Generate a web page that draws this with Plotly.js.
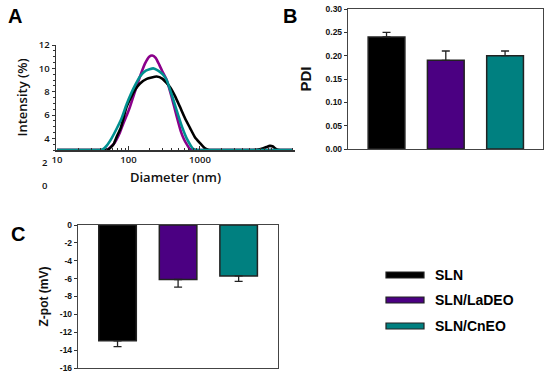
<!DOCTYPE html>
<html>
<head>
<meta charset="utf-8">
<script src="https://cdn.plot.ly/plotly-3.0.1.min.js"></script>
<style>html,body{margin:0;padding:0;background:#fff;}#chart{width:550px;height:379px;}</style>
</head>
<body>
<div id="chart"></div>
<script>
// ---- Data ----
const samples = ["SLN", "SLN/LaDEO", "SLN/CnEO"];

// Panel A: DLS intensity distributions (diameter in nm, intensity %)
const dPurple = [10, 40, 46, 50, 55, 62, 68, 76, 85, 95, 105, 120, 145, 170, 195, 215, 240, 270, 300, 342, 400, 472, 540, 600, 652, 720, 770, 820, 900, 20000];
const iPurple = [3, 3, 3, 3.02, 3.2, 3.5, 3.9, 4.5, 5.3, 6.0, 6.7, 7.8, 9.3, 10.4, 11.0, 11.1, 10.9, 10.3, 9.7, 9.0, 7.6, 5.9, 4.6, 3.9, 3.5, 3.1, 3.02, 3, 3, 3];

const dBlack = [10, 42, 48, 52, 56, 62, 68, 78, 94, 110, 125, 145, 180, 248, 300, 380, 450, 525, 620, 725, 850, 1000, 1150, 1300, 1400, 1550, 5500, 6300, 7500, 8500, 9500, 10500, 11500, 12300, 13200, 14500, 20000];
const iBlack = [3, 3, 3, 3.02, 3.2, 3.5, 4.1, 4.9, 6.7, 7.6, 8.2, 8.7, 9.1, 9.3, 9.1, 8.4, 7.6, 6.7, 5.7, 4.9, 4.1, 3.6, 3.2, 3.03, 3, 3, 3, 3.02, 3.12, 3.25, 3.35, 3.3, 3.1, 3.02, 3, 3, 3];

const dTeal = [10, 36, 40, 43, 50, 58, 68, 80, 94, 110, 125, 145, 175, 222, 260, 300, 342, 400, 472, 560, 652, 740, 800, 860, 920, 1000, 20000];
const iTeal = [3, 3, 3, 3.02, 3.4, 4.0, 4.8, 5.7, 6.9, 7.9, 8.6, 9.3, 9.8, 10.0, 9.8, 9.5, 9.0, 7.8, 6.4, 5.0, 4.0, 3.4, 3.1, 3.02, 3, 3, 3];

const yTicksA = [4, 6, 8, 10, 12];
const xTicksA = [10, 100, 1000];
const offAxisLabelsA = ["2", "0"];

// Panel B: PDI
const pdi = [0.24, 0.19, 0.20];
const pdiErr = [0.01, 0.02, 0.01];

// Panel C: Zeta potential (mV)
const zpot = [-12.95, -6.1, -5.7];
const zpotErr = [0.65, 0.85, 0.6];
const zTickVals = [0, -2, -4, -6, -8, -10, -12, -14, -16];
const zTickText = ["0", "-2", "-4", "-6", "-8", "-10", "-12", "-14", "-16"];

const barColors = ["#000000", "#4B0082", "#008080"];
const lineColors = {black: "#000000", purple: "#8B008B", teal: "#009090"};

// ---- Traces ----
function curve(x, y, c) {
  return {x: x, y: y, type: "scatter", mode: "lines", line: {color: c, width: 2.6, shape: "spline", smoothing: 0.45},
    xaxis: "x", yaxis: "y", showlegend: false, hoverinfo: "skip"};
}
const traces = [
  curve(dPurple, iPurple, lineColors.purple),
  curve(dBlack, iBlack, lineColors.black),
  curve(dTeal, iTeal, lineColors.teal),
  {x: samples, y: pdi, type: "bar", width: 0.62, marker: {color: barColors, line: {color: "#222", width: 1.5}},
   error_y: {type: "data", symmetric: false, array: pdiErr, arrayminus: [0, 0, 0], color: "#222", thickness: 1.3, width: 4},
   xaxis: "x2", yaxis: "y2", showlegend: false},
  {x: samples, y: zpot, type: "bar", width: 0.62, marker: {color: barColors, line: {color: "#222", width: 1.5}},
   error_y: {type: "data", symmetric: false, array: [0, 0, 0], arrayminus: zpotErr, color: "#222", thickness: 1.3, width: 4},
   xaxis: "x3", yaxis: "y3", showlegend: false}
];

const W = 550, H = 379;
const px = v => v / W;
const py = v => 1 - v / H;

const fA = {family: "Open Sans, sans-serif", size: 9.5, color: "#111", weight: 600};
const fB = {family: "Liberation Sans, Arial, sans-serif", size: 8.5, color: "#111", weight: 700};
const letterFont = {family: "Liberation Sans, Arial", size: 20, color: "#000", weight: 700};

const layout = {
  width: W, height: H,
  margin: {l: 0, r: 0, t: 0, b: 0},
  paper_bgcolor: "#fff", plot_bgcolor: "#fff",
  xaxis: {
    domain: [px(56), px(295)], anchor: "y", type: "log", range: [0.986, 4.33],
    tickvals: xTicksA, ticktext: xTicksA.map(String),
    ticks: "inside", ticklen: 4, tickcolor: "#333", showline: true, linecolor: "#333", linewidth: 1.5,
    minor: {ticks: "inside", ticklen: 2.5, tickcolor: "#333", dtick: "D1"},
    showgrid: false, zeroline: false, tickfont: fA,
    title: {text: "Diameter (nm)", font: {family: "Open Sans, sans-serif", size: 13, color: "#111", weight: 600}, standoff: 8}
  },
  yaxis: {
    domain: [py(150), py(45)], anchor: "x", range: [3, 12],
    tickvals: yTicksA, ticks: "outside", ticklen: 3, tickcolor: "#333",
    minor: {ticks: "outside", ticklen: 2, tickcolor: "#333", dtick: 0.5},
    showline: true, linecolor: "#333", linewidth: 1.5, showgrid: false, zeroline: false, tickfont: fA,
    title: {text: "Intensity (%)", font: {family: "Open Sans, sans-serif", size: 13, color: "#111", weight: 600}, standoff: 8}
  },
  xaxis2: {
    domain: [px(348), px(543)], anchor: "y2", type: "category", range: [-0.65, 2.64],
    showticklabels: false, ticks: "", showline: true, mirror: true, linecolor: "#444", linewidth: 1.2, showgrid: false, zeroline: false
  },
  yaxis2: {
    domain: [py(149), py(9)], anchor: "x2", range: [0, 0.30], dtick: 0.05, tickformat: ".2f",
    ticks: "outside", ticklen: 3, tickcolor: "#333", showline: true, mirror: true, linecolor: "#444", linewidth: 1.2,
    showgrid: false, zeroline: false, tickfont: fB,
    title: {text: "PDI", font: {family: "Liberation Sans, Arial, sans-serif", size: 15, color: "#111", weight: 700}, standoff: 10}
  },
  xaxis3: {
    domain: [px(78), px(278)], anchor: "y3", type: "category", range: [-0.653, 2.65],
    showticklabels: false, ticks: "", showline: true, mirror: true, linecolor: "#444", linewidth: 1.2, showgrid: false, zeroline: false
  },
  yaxis3: {
    domain: [py(368), py(225)], anchor: "x3", range: [-16, 0],
    tickvals: zTickVals, ticktext: zTickText,
    ticks: "outside", ticklen: 3, tickcolor: "#333", showline: true, mirror: true, linecolor: "#444", linewidth: 1.2,
    showgrid: false, zeroline: false, tickfont: fB,
    title: {text: "Z-pot (mV)", font: {family: "Liberation Sans, Arial, sans-serif", size: 12, color: "#111", weight: 700}, standoff: 8}
  },
  shapes: [],
  annotations: [
    {text: "A", x: px(15), y: py(16), xref: "paper", yref: "paper", xanchor: "center", yanchor: "middle", showarrow: false, font: letterFont},
    {text: "B", x: px(290), y: py(16), xref: "paper", yref: "paper", xanchor: "center", yanchor: "middle", showarrow: false, font: letterFont},
    {text: "C", x: px(18), y: py(234), xref: "paper", yref: "paper", xanchor: "center", yanchor: "middle", showarrow: false, font: letterFont}
  ]
};

// Off-axis tick labels of panel A ("2" and "0") below the axis line
const offAxisRows = [162, 185];
offAxisLabelsA.forEach((t, i) => {
  layout.annotations.push({text: t, x: px(50), xref: "paper", y: py(offAxisRows[i]), yref: "paper",
    xanchor: "right", yanchor: "middle", showarrow: false, font: fA});
});

// Legend (built from sample names and colours)
const legRows = [275, 300, 326];
samples.forEach((s, i) => {
  layout.shapes.push({type: "rect", xref: "paper", yref: "paper",
    x0: px(386), x1: px(424), y0: py(legRows[i] + 3), y1: py(legRows[i] - 3),
    fillcolor: barColors[i], line: {color: "#222", width: 1.2}});
  layout.annotations.push({text: s, xref: "paper", yref: "paper", x: px(433), y: py(legRows[i]),
    xanchor: "left", yanchor: "middle", showarrow: false,
    font: {family: "Liberation Sans, Arial, sans-serif", size: 14, color: "#000", weight: 700}});
});

Plotly.newPlot("chart", traces, layout, {staticPlot: true, displayModeBar: false});
</script>
</body>
</html>
